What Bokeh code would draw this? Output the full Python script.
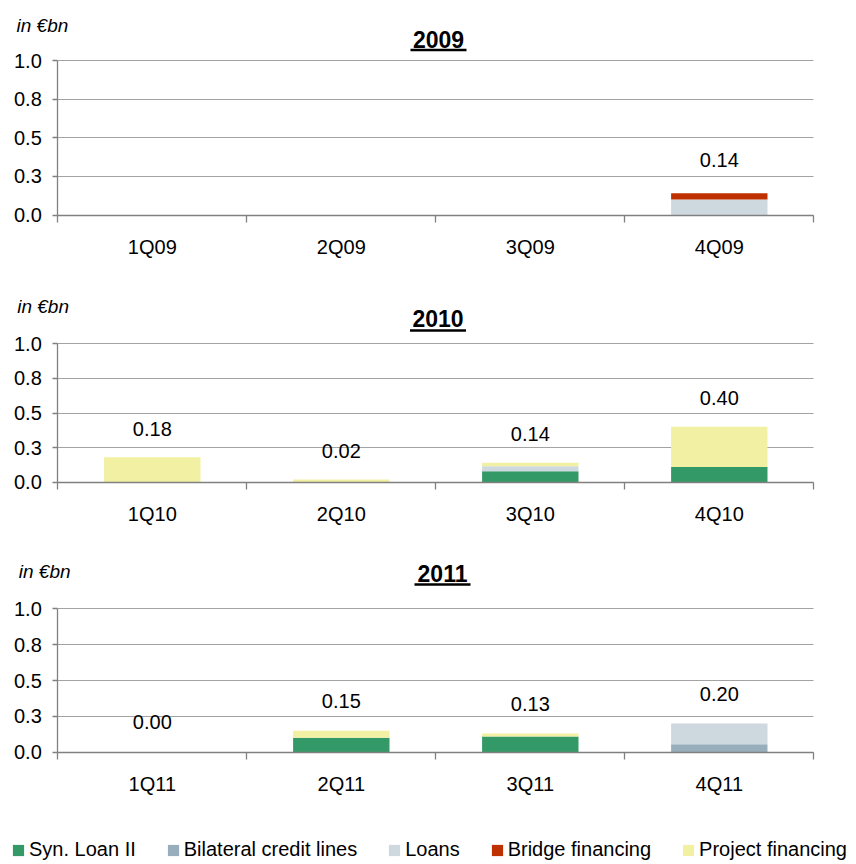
from bokeh.plotting import figure
from bokeh.models import (ColumnDataSource, Range1d, FixedTicker, Label, LabelSet,
                          Arrow, Legend, LegendItem)
from bokeh.layouts import column
from bokeh.core.properties import value
from bokeh.embed import file_html
from bokeh.resources import INLINE

# ---------------- data ----------------
series_keys = ["syn", "bil", "loans", "bridge", "project"]
series_names = ["Syn. Loan II", "Bilateral credit lines", "Loans",
                "Bridge financing", "Project financing"]
series_colors = ["#339966", "#99aebd", "#cdd8df", "#bf3000", "#f1f0a3"]

quarters_2009 = ["1Q09", "2Q09", "3Q09", "4Q09"]
syn_2009 = [0, 0, 0, 0]
bil_2009 = [0, 0, 0, 0]
loans_2009 = [0, 0, 0, 0.10]
bridge_2009 = [0, 0, 0, 0.04]
project_2009 = [0, 0, 0, 0]
labels_2009 = ["", "", "", "0.14"]

quarters_2010 = ["1Q10", "2Q10", "3Q10", "4Q10"]
syn_2010 = [0, 0, 0.08, 0.11]
bil_2010 = [0, 0, 0, 0]
loans_2010 = [0, 0, 0.035, 0]
bridge_2010 = [0, 0, 0, 0]
project_2010 = [0.18, 0.02, 0.025, 0.29]
labels_2010 = ["0.18", "0.02", "0.14", "0.40"]

quarters_2011 = ["1Q11", "2Q11", "3Q11", "4Q11"]
syn_2011 = [0, 0.10, 0.11, 0]
bil_2011 = [0, 0, 0, 0.055]
loans_2011 = [0, 0, 0, 0.145]
bridge_2011 = [0, 0, 0, 0]
project_2011 = [0, 0.05, 0.02, 0]
labels_2011 = ["0.00", "0.15", "0.13", "0.20"]

y_ticks = [0, 0.25, 0.5, 0.75, 1.0]
y_tick_labels = ["0.0", "0.3", "0.5", "0.8", "1.0"]
unit_text = "in €bn"

FONT = "Liberation Sans"
AXIS_COLOR = "#808080"
GRID_COLOR = "#a3a3a3"
FIG_W = 854
X0_PX = 57.3      # screen x of the value axis
CAT_PX = 189.0    # width of one quarter slot in px


def make_panel(year, quarters, stacks, labels, top_px, height, y1_px, y0_px, label_off,
               unit_x, unit_base, title_x, title_base, ul_y, with_legend=False):
    n = len(quarters)
    fh = y0_px - y1_px                      # px per 1.0
    # ranges chosen so that the frame fills the whole figure
    xr = Range1d(-X0_PX / CAT_PX, (FIG_W - X0_PX) / CAT_PX)
    yr = Range1d(-(top_px + height - y0_px) / fh, 1 + (y1_px - top_px) / fh)
    p = figure(frame_width=FIG_W, frame_height=height, min_border=0,
               x_range=xr, y_range=yr,
               output_backend="svg", toolbar_location=None, tools="")
    p.outline_line_color = None
    p.background_fill_color = "white"
    p.border_fill_color = "white"

    def dx(px):
        return (px - X0_PX) / CAT_PX

    def dy(py):
        return (y0_px - py) / fh

    xs = [i + 0.5 for i in range(n)]
    data = dict(x=xs)
    for k, vals in zip(series_keys, stacks):
        data[k] = vals
    data["total"] = [sum(v) for v in zip(*stacks)]
    data["label"] = labels
    src = ColumnDataSource(data)

    rends = p.vbar_stack(series_keys, x="x", width=0.51, fill_color=series_colors,
                         line_color=None, source=src)

    p.add_layout(LabelSet(x="x", y="total", text="label", source=src,
                          y_offset=label_off, text_align="center", text_baseline="middle",
                          text_font=value(FONT), text_font_size=value("20px"),
                          text_color="black"))

    # category axis: boundary ticks drawn as minor ticks, labels at slot centres
    xa = p.xaxis[0]
    xa.fixed_location = 0
    xa.bounds = (0, n)
    xa.ticker = FixedTicker(ticks=xs, minor_ticks=list(range(n + 1)))
    xa.major_label_overrides = {x: q for x, q in zip(xs, quarters)}
    xa.major_tick_line_color = None
    xa.major_tick_out = 0
    xa.major_tick_in = 0
    xa.minor_tick_line_color = AXIS_COLOR
    xa.minor_tick_line_width = 1.3
    xa.minor_tick_out = 7
    xa.minor_tick_in = 0
    xa.axis_line_color = AXIS_COLOR
    xa.axis_line_width = 1.3
    xa.major_label_standoff = 14
    xa.major_label_text_font = FONT
    xa.major_label_text_font_size = "20px"
    xa.major_label_text_color = "black"

    ya = p.yaxis[0]
    ya.fixed_location = 0
    ya.bounds = (0, 1)
    ya.ticker = FixedTicker(ticks=y_ticks)
    ya.major_label_overrides = dict(zip(y_ticks, y_tick_labels))
    ya.minor_tick_line_color = None
    ya.major_tick_line_color = AXIS_COLOR
    ya.major_tick_line_width = 1.3
    ya.major_tick_out = 5
    ya.major_tick_in = 0
    ya.axis_line_color = AXIS_COLOR
    ya.axis_line_width = 1.3
    ya.major_label_standoff = 11
    ya.major_label_text_font = FONT
    ya.major_label_text_font_size = "20px"
    ya.major_label_text_color = "black"

    p.xgrid.visible = False
    p.ygrid.grid_line_color = GRID_COLOR
    p.ygrid.grid_line_width = 1.1
    p.ygrid.bounds = (0, 1)
    p.ygrid.cross_bounds = (0, n)

    # unit label and underlined year title (baseline compensation for Bokeh's text box)
    p.add_layout(Label(x=dx(unit_x), y=dy(unit_base - 7), text=unit_text,
                       text_font=FONT, text_font_style="italic", text_font_size="19px",
                       text_align="left", text_baseline="alphabetic", text_color="black"))
    p.add_layout(Label(x=dx(title_x), y=dy(title_base - 8), text=year,
                       text_font=FONT, text_font_style="bold", text_font_size="23px",
                       text_align="center", text_baseline="alphabetic", text_color="black"))
    p.add_layout(Arrow(start=None, end=None,
                       x_start=dx(title_x - 28), x_end=dx(title_x + 28),
                       y_start=dy(ul_y), y_end=dy(ul_y),
                       line_color="black", line_width=2.5))

    if with_legend:
        items = [LegendItem(label=nm, renderers=[r]) for nm, r in zip(series_names, rends)]
        lg = Legend(items=items, location=(11, 1), orientation="horizontal",
                    glyph_width=14, glyph_height=14, label_standoff=4, spacing=30,
                    padding=0, margin=0, label_height=20, label_text_font=FONT,
                    label_text_font_size="20px", label_text_color="black",
                    border_line_color=None, background_fill_alpha=0)
        p.add_layout(lg)
    return p


p1 = make_panel("2009", quarters_2009,
                [syn_2009, bil_2009, loans_2009, bridge_2009, project_2009], labels_2009,
                top_px=0, height=283, y1_px=60, y0_px=214.5, label_off=33,
                unit_x=16, unit_base=31.7, title_x=438, title_base=46.7, ul_y=49.5)
p2 = make_panel("2010", quarters_2010,
                [syn_2010, bil_2010, loans_2010, bridge_2010, project_2010], labels_2010,
                top_px=283, height=272, y1_px=343.3, y0_px=481.7, label_off=28.5,
                unit_x=16.7, unit_base=313.3, title_x=437.5, title_base=326, ul_y=330)
p3 = make_panel("2011", quarters_2011,
                [syn_2011, bil_2011, loans_2011, bridge_2011, project_2011], labels_2011,
                top_px=555, height=307, y1_px=608.3, y0_px=751.7, label_off=30,
                unit_x=18.3, unit_base=578.3, title_x=442, title_base=580.7, ul_y=584,
                with_legend=True)

layout = column(p1, p2, p3, spacing=0)
open("out.html", "w").write(file_html(layout, INLINE))
